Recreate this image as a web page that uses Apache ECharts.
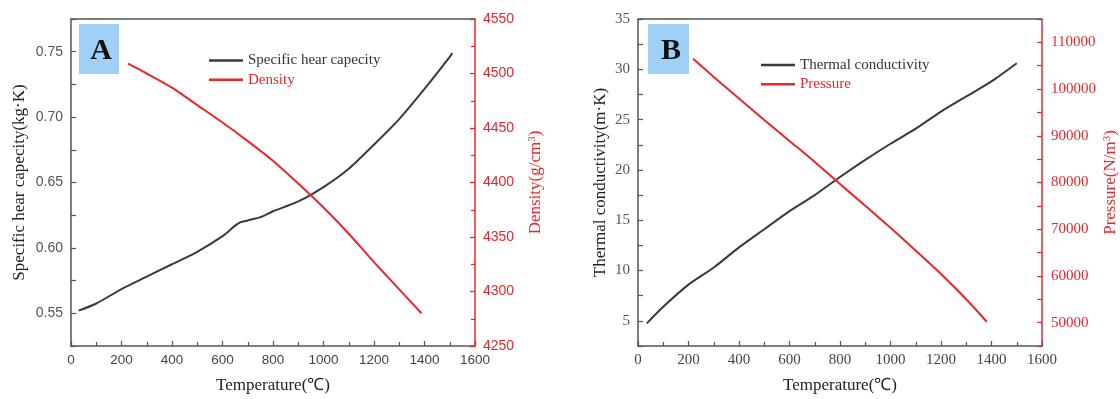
<!DOCTYPE html>
<html>
<head>
<meta charset="utf-8">
<script src="https://cdn.jsdelivr.net/npm/echarts@6/dist/echarts.min.js"></script>
<style>
html,body{margin:0;padding:0;background:#fff;}
#chart{width:1120px;height:399px;}
</style>
</head>
<body>
<div id="chart"></div>
<script>
// ---- Data ----
const tempCp = [30, 100, 200, 300, 400, 500, 600, 650, 670, 700, 750, 800, 900, 1000, 1100, 1200, 1300, 1400, 1500, 1510];
const cpValues = [0.552, 0.5575, 0.5685, 0.578, 0.5875, 0.597, 0.609, 0.617, 0.6195, 0.621, 0.6235, 0.628, 0.6355, 0.6465, 0.6605, 0.679, 0.6985, 0.7215, 0.746, 0.749];

const tempDensity = [226, 300, 400, 500, 600, 700, 800, 900, 1000, 1100, 1200, 1300, 1388];
const densityValues = [4509, 4500, 4487, 4471, 4455, 4438, 4420, 4399, 4377, 4353, 4327, 4302, 4280];

const tempK = [35, 100, 200, 300, 400, 500, 600, 700, 800, 900, 1000, 1100, 1200, 1300, 1400, 1500];
const kValues = [4.75, 6.4, 8.6, 10.3, 12.3, 14.1, 15.9, 17.5, 19.3, 21.0, 22.6, 24.1, 25.8, 27.3, 28.8, 30.6];

const tempP = [218, 300, 400, 500, 600, 700, 800, 900, 1000, 1100, 1200, 1300, 1381];
const pValues = [106500, 102600, 98000, 93400, 88900, 84400, 79700, 75000, 70300, 65400, 60400, 55000, 50200];

const xTickLabels = ['0', '200', '400', '600', '800', '1000', '1200', '1400', '1600'];
const cpTickLabels = ['0.55', '0.60', '0.65', '0.70', '0.75'];
const densityTickLabels = ['4250', '4300', '4350', '4400', '4450', '4500', '4550'];
const kTickLabels = ['5', '10', '15', '20', '25', '30', '35'];
const pTickLabels = ['50000', '60000', '70000', '80000', '90000', '100000', '110000'];

const seriesNames = ['Specific hear capecity', 'Density', 'Thermal conductivity', 'Pressure'];

// ---- Styles ----
const RED = '#e8262b';
const DARK = '#3a3a3a';
const AXIS_GRAY = '#555';
const SANS = '"Liberation Sans", Arial, sans-serif';
const SERIF = '"Liberation Serif", "Times New Roman", serif';

function pairs(xs, ys) { return xs.map((x, i) => [x, ys[i]]); }
function pickFormatter(list, digits) {
  return function (v) {
    const s = digits != null ? v.toFixed(digits) : String(Math.round(v));
    return list.indexOf(s) >= 0 ? s : '';
  };
}

function xAxisBottom(grid, labelFont, labelSize) {
  return {
    type: 'value', gridIndex: grid, position: 'bottom',
    min: 0, max: 1600, interval: 200,
    axisLine: { show: true, onZero: false, lineStyle: { color: AXIS_GRAY, width: 1.5 } },
    axisTick: { show: true, inside: true, length: 5, lineStyle: { color: AXIS_GRAY, width: 1.2 } },
    minorTick: { show: true, splitNumber: 2, length: 4, lineStyle: { color: AXIS_GRAY, width: 1.2 } },
    splitLine: { show: false },
    axisLabel: { formatter: pickFormatter(xTickLabels), fontFamily: labelFont, fontSize: labelSize, color: '#444', margin: 7 },
    name: 'Temperature(℃)', nameLocation: 'middle', nameGap: 31,
    nameTextStyle: { fontFamily: SERIF, fontSize: 17, color: '#222' }
  };
}
function xAxisTop(grid) {
  return {
    type: 'value', gridIndex: grid, position: 'top', min: 0, max: 1600,
    axisLine: { show: true, onZero: false, lineStyle: { color: AXIS_GRAY, width: 1.5 } },
    axisTick: { show: false }, axisLabel: { show: false }, splitLine: { show: false }
  };
}

const option = {
  backgroundColor: '#fff',
  animation: false,
  grid: [
    { left: 71, top: 19, width: 404, height: 327 },
    { left: 638, top: 19, width: 404, height: 327 }
  ],
  xAxis: [
    xAxisBottom(0, SANS, 13.5), xAxisTop(0),
    xAxisBottom(1, SERIF, 15), xAxisTop(1)
  ],
  yAxis: [
    {
      type: 'value', gridIndex: 0, position: 'left',
      min: 0.525, max: 0.775, interval: 0.025,
      axisLine: { show: true, onZero: false, lineStyle: { color: AXIS_GRAY, width: 1.5 } },
      axisTick: { show: true, inside: true, length: 5, lineStyle: { color: AXIS_GRAY, width: 1.2 } },
      splitLine: { show: false },
      axisLabel: { formatter: pickFormatter(cpTickLabels, 2), fontFamily: SANS, fontSize: 14, color: '#555', margin: 8 },
      name: 'Specific hear capecity(kg·K)', nameLocation: 'middle', nameRotate: 90, nameGap: 43,
      nameTextStyle: { fontFamily: SERIF, fontSize: 17, color: '#222' }
    },
    {
      type: 'value', gridIndex: 0, position: 'right',
      min: 4250, max: 4550, interval: 50,
      axisLine: { show: true, onZero: false, lineStyle: { color: RED, width: 1.5 } },
      axisTick: { show: true, inside: true, length: 5, lineStyle: { color: RED, width: 1.2 } },
      minorTick: { show: true, splitNumber: 2, length: 4, lineStyle: { color: RED, width: 1.2 } },
      splitLine: { show: false },
      axisLabel: { formatter: pickFormatter(densityTickLabels), fontFamily: SANS, fontSize: 14, color: RED, margin: 8 },
      name: '{n|Density(g/cm}{s|3}{n|)}', nameLocation: 'middle', nameRotate: 90, nameGap: 52,
      nameTextStyle: {
        color: RED,
        rich: {
          n: { fontFamily: SERIF, fontSize: 17, color: RED },
          s: { fontFamily: SERIF, fontSize: 11, color: RED, verticalAlign: 'top', padding: [0, 0, 6, 0] }
        }
      }
    },
    {
      type: 'value', gridIndex: 1, position: 'left',
      min: 2.5, max: 35, interval: 2.5,
      axisLine: { show: true, onZero: false, lineStyle: { color: AXIS_GRAY, width: 1.5 } },
      axisTick: { show: true, inside: true, length: 5, lineStyle: { color: AXIS_GRAY, width: 1.2 } },
      splitLine: { show: false },
      axisLabel: { formatter: pickFormatter(kTickLabels), fontFamily: SERIF, fontSize: 15, color: '#555', margin: 8 },
      name: 'Thermal conductivity(m·K)', nameLocation: 'middle', nameRotate: 90, nameGap: 29,
      nameTextStyle: { fontFamily: SERIF, fontSize: 17, color: '#222' }
    },
    {
      type: 'value', gridIndex: 1, position: 'right',
      min: 45000, max: 115000, interval: 5000,
      axisLine: { show: true, onZero: false, lineStyle: { color: RED, width: 1.5 } },
      axisTick: { show: true, inside: true, length: 5, lineStyle: { color: RED, width: 1.2 } },
      splitLine: { show: false },
      axisLabel: { formatter: pickFormatter(pTickLabels), fontFamily: SERIF, fontSize: 15, color: RED, margin: 9 },
      name: '{n|Pressure(N/m}{s|3}{n|)}', nameLocation: 'middle', nameRotate: 90, nameGap: 60,
      nameTextStyle: {
        color: RED,
        rich: {
          n: { fontFamily: SERIF, fontSize: 17, color: RED },
          s: { fontFamily: SERIF, fontSize: 11, color: RED, verticalAlign: 'top', padding: [0, 0, 6, 0] }
        }
      }
    }
  ],
  legend: [
    {
      orient: 'vertical', left: 209, top: 53, padding: 0, itemGap: 4.3,
      itemWidth: 34, itemHeight: 2.5, icon: 'rect',
      textStyle: { fontFamily: SERIF, fontSize: 15, lineHeight: 15 },
      data: [
        { name: seriesNames[0], textStyle: { color: '#333' } },
        { name: seriesNames[1], textStyle: { color: RED } }
      ]
    },
    {
      orient: 'vertical', left: 761, top: 57.5, padding: 0, itemGap: 4.3,
      itemWidth: 34, itemHeight: 2.5, icon: 'rect',
      textStyle: { fontFamily: SERIF, fontSize: 15, lineHeight: 15 },
      data: [
        { name: seriesNames[2], textStyle: { color: '#333' } },
        { name: seriesNames[3], textStyle: { color: RED } }
      ]
    }
  ],
  series: [
    { name: seriesNames[0], type: 'line', xAxisIndex: 0, yAxisIndex: 0, data: pairs(tempCp, cpValues), smooth: 0.25, symbol: 'none', color: DARK, lineStyle: { color: DARK, width: 2 } },
    { name: seriesNames[1], type: 'line', xAxisIndex: 0, yAxisIndex: 1, data: pairs(tempDensity, densityValues), smooth: 0.25, symbol: 'none', color: RED, lineStyle: { color: RED, width: 2 } },
    { name: seriesNames[2], type: 'line', xAxisIndex: 2, yAxisIndex: 2, data: pairs(tempK, kValues), smooth: 0.25, symbol: 'none', color: DARK, lineStyle: { color: DARK, width: 2 } },
    { name: seriesNames[3], type: 'line', xAxisIndex: 2, yAxisIndex: 3, data: pairs(tempP, pValues), smooth: 0.25, symbol: 'none', color: RED, lineStyle: { color: RED, width: 2 } }
  ],
  graphic: [
    { type: 'rect', shape: { x: 79, y: 24, width: 40, height: 50 }, style: { fill: '#9fd0f5' }, z: 10 },
    { type: 'text', x: 101, y: 51, style: { text: 'A', font: 'bold 30px "Liberation Serif"', fill: '#111', align: 'center', verticalAlign: 'middle' }, z: 11 },
    { type: 'rect', shape: { x: 648, y: 24, width: 41, height: 50 }, style: { fill: '#9fd0f5' }, z: 10 },
    { type: 'text', x: 671, y: 51, style: { text: 'B', font: 'bold 30px "Liberation Serif"', fill: '#111', align: 'center', verticalAlign: 'middle' }, z: 11 }
  ]
};

const chart = echarts.init(document.getElementById('chart'), null, { renderer: 'canvas' });
chart.setOption(option);
</script>
</body>
</html>
